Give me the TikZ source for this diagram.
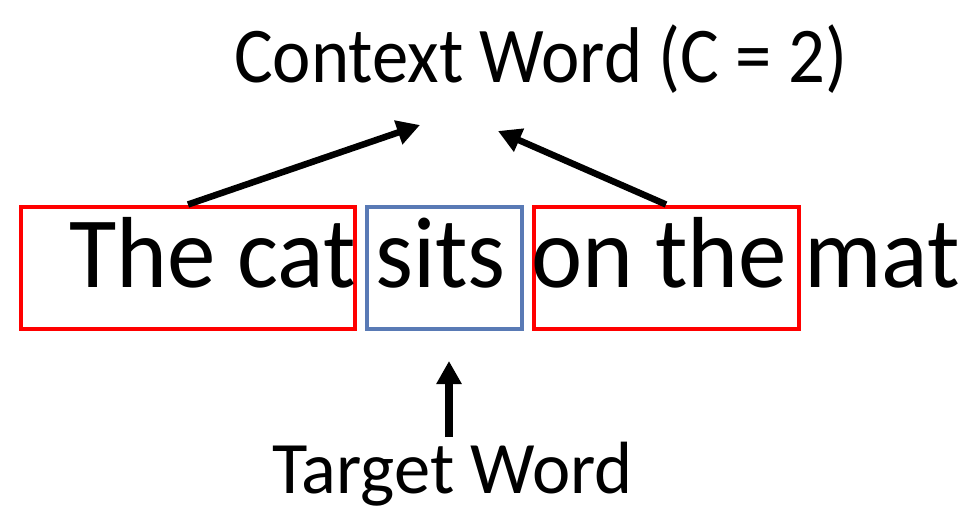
\documentclass[tikz,border=0pt]{standalone}
\usepackage{fontspec}
\setmainfont{Carlito}
\newfontfamily\wordfont{Carlito}[FakeStretch=0.96]
\newfontfamily\ctxfont{Carlito}[FakeStretch=0.92]
\newfontfamily\tgtfont{Carlito}[FakeStretch=0.98]
\usetikzlibrary{arrows.meta}
\definecolor{tgtblue}{RGB}{89,122,181}

\begin{document}
\begin{tikzpicture}[x=1pt,y=-1pt]
\newlength{\boxh}
\setlength{\boxh}{122pt}

\tikzset{
  box_c/.style = {draw=red, line width=4pt, inner sep=0pt, minimum height=\boxh},
  box_t/.style = {box_c, draw=tgtblue},
  word_s/.style = {anchor=base west, inner sep=0pt, font=\wordfont\fontsize{101}{110}\selectfont},
  lab_s/.style = {anchor=base west, inner sep=0pt},
  arr_s/.style = {-{Triangle[length=23pt,width=24pt]}, line width=6.5pt}
}
\useasboundingbox (0,0) rectangle (970,525);

% boxes round the words
\node [box_c, minimum width=334pt] (ctxleft) at (188,267.5) {};
\node [box_t, minimum width=155pt] (target) at (444,267.5) {};
\node [box_c, minimum width=265pt] (ctxright) at (666,267.5) {};

% the sentence
\node [word_s] (thecat) at (69,287) {The cat};
\node [word_s] (sits) at (375,287) {sits};
\node [word_s] (onthe) at (531,287) {on the};
\node [word_s] (mat) at (804,287) {mat};

% labels
\node [lab_s, font=\ctxfont\fontsize{79}{90}\selectfont] (ctxlabel) at (234,82) {Context Word (C = 2)};
\node [lab_s, font=\tgtfont\fontsize{74}{85}\selectfont] (tgtlabel) at (272,493) {Target Word};

\coordinate (tipl) at (420,125);
\coordinate (tipr) at (498,131);
\coordinate (tipt) at (449,361);
\coordinate (tailt) at (449,437);

\draw [arr_s] (ctxleft.north) -- (tipl);
\draw [arr_s] (ctxright.north) -- (tipr);
\draw [arr_s, line width=8pt] (tailt) -- (tipt);

\end{tikzpicture}
\end{document}
